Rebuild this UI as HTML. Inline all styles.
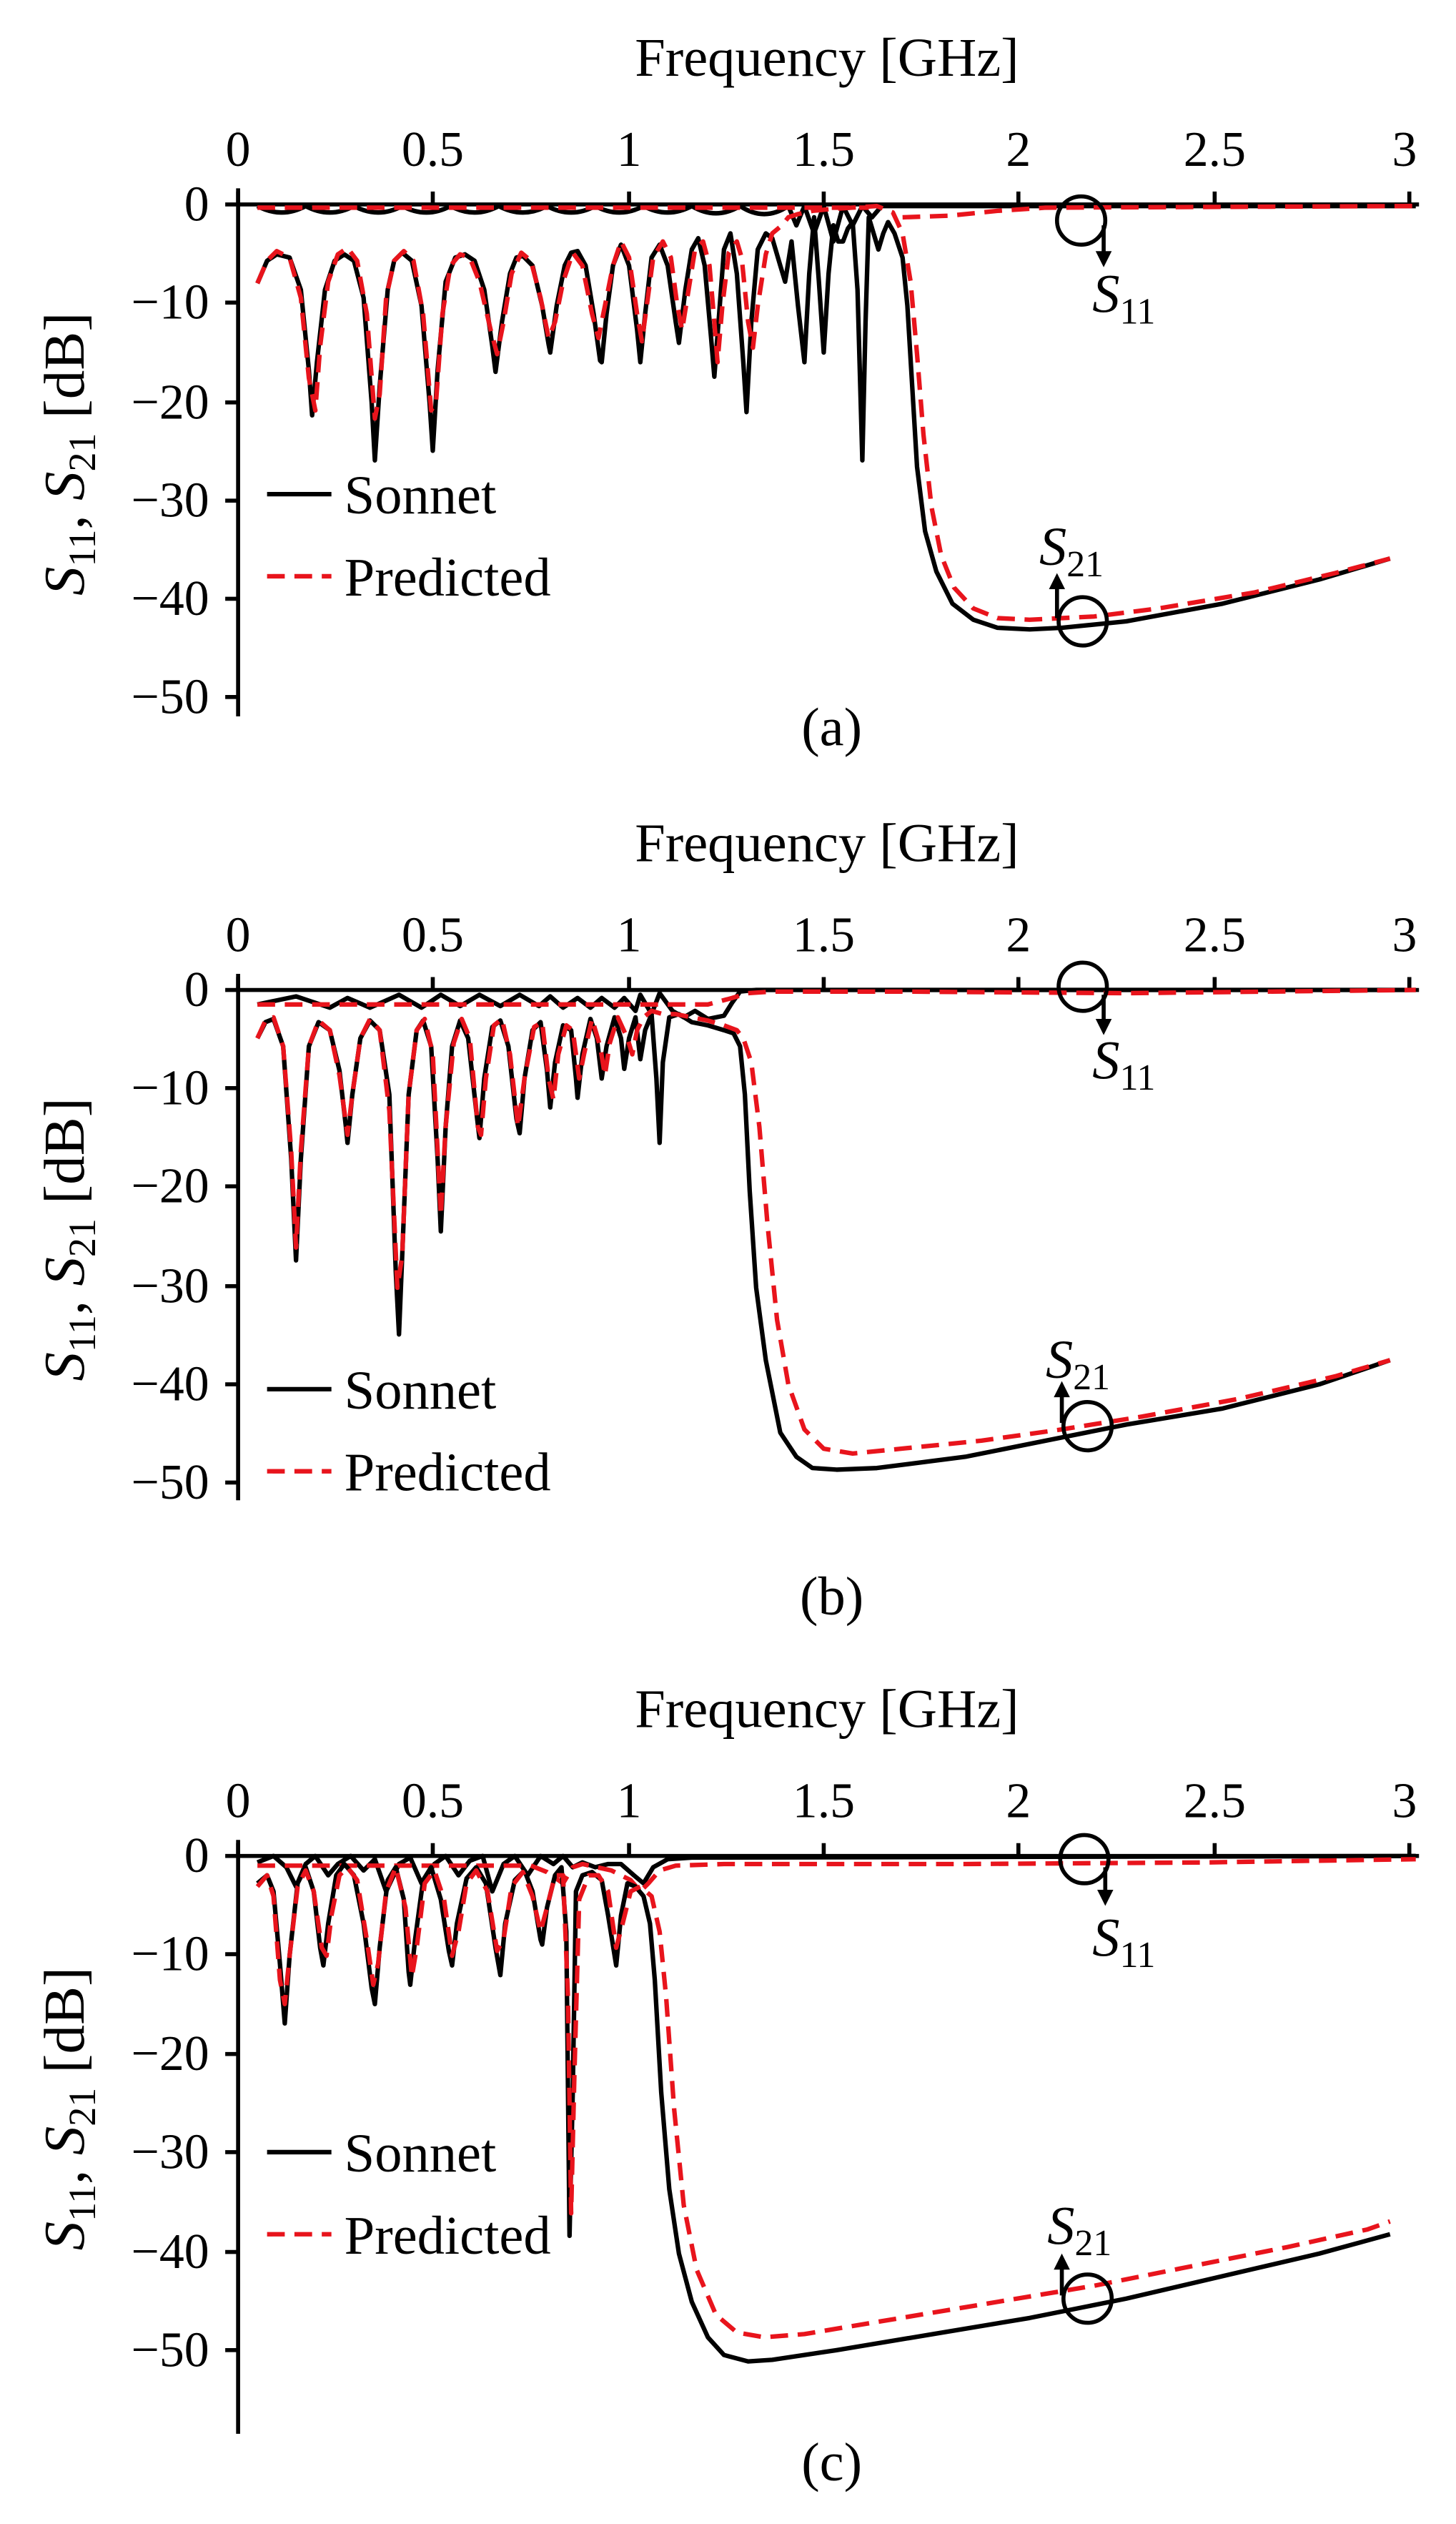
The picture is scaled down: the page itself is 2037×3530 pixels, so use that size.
<!DOCTYPE html>
<html><head><meta charset="utf-8"><style>
html,body{margin:0;padding:0;background:#fff}
svg{display:block}
text{font-family:"Liberation Serif",serif;fill:#000}
.k{fill:none;stroke:#000;stroke-width:2.8;stroke-linejoin:round}
.r{fill:none;stroke:#e8141c;stroke-width:2.8;stroke-dasharray:11,6;stroke-linejoin:round}
.ax{stroke:#000;stroke-width:2.5;fill:none}
.tk{font-size:31px}
.lg{font-size:34px}
.yl{font-size:36px}
</style></head><body>
<svg width="2037" height="3530" viewBox="0 0 905 1568" preserveAspectRatio="none" xmlns="http://www.w3.org/2000/svg">
<defs>
<g id="xt">
<path class="ax" d="M148,0 v-8 M269,0 v-8 M391,0 v-8 M512,0 v-8 M633,0 v-8 M755,0 v-8 M876,0 v-8"/>
<text class="tk" text-anchor="middle" x="148" y="-24">0</text>
<text class="tk" text-anchor="middle" x="269" y="-24">0.5</text>
<text class="tk" text-anchor="middle" x="391" y="-24">1</text>
<text class="tk" text-anchor="middle" x="512" y="-24">1.5</text>
<text class="tk" text-anchor="middle" x="633" y="-24">2</text>
<text class="tk" text-anchor="middle" x="755" y="-24">2.5</text>
<text class="tk" text-anchor="middle" x="873" y="-24">3</text>
<text font-size="34" text-anchor="middle" x="514" y="-80">Frequency [GHz]</text>
</g>
</defs>

<!-- ===== Panel (a) ===== -->
<g transform="translate(0,127)"><use href="#xt"/></g>
<path class="ax" d="M148,117 V445 M148,127 H882"/>
<path class="ax" d="M140,127 h8 M140,188 h8 M140,250 h8 M140,311 h8 M140,372 h8 M140,433 h8"/>
<g class="tk" text-anchor="end">
<text x="130" y="137">0</text><text x="130" y="198">−10</text><text x="130" y="260">−20</text>
<text x="130" y="321">−30</text><text x="130" y="382">−40</text><text x="130" y="443">−50</text></g>
<text class="yl" transform="translate(52,282) rotate(-90)" text-anchor="middle"><tspan font-style="italic">S</tspan><tspan font-size="24" dy="7">11</tspan><tspan dy="-7">,  </tspan><tspan font-style="italic">S</tspan><tspan font-size="24" dy="7">21</tspan><tspan dy="-7"> [dB]</tspan></text>
<text font-size="34" x="517" y="463" text-anchor="middle">(a)</text>

<path class="k" d="M160,128 Q175,136 190,128 Q205,136 220,128 Q235,136 250,128 Q265,136 280,128 Q295,136 310,128 Q325,136 340,128 Q355,136 370,128 Q385,136 400,128 Q415,136 430,128 Q445,137 460,128 Q475,138 490,128 L495,140 500,128 506,145 512,128 518,150 524,128 530,140 536,128 542,135 548,128 560,128 L880,128"/>
<path class="r" d="M160,129 L540,129 M561,135 L590,134 620,131 650,129 880,128"/>
<path class="k" d="M160,176 L166,162 172,158 180,160 187,180 192,230 194,258 197,225 202,180 208,162 214,158 220,162 226,185 231,250 233,286 236,240 241,180 245,162 250,157 256,162 262,190 267,250 269,280 272,230 277,175 283,160 289,158 295,162 301,180 306,215 308,231 312,200 317,170 321,160 325,159 331,165 337,190 341,214 342,219 346,190 351,165 355,157 359,156 364,165 369,195 373,224 374,225 377,195 381,165 386,152 391,165 396,205 398,225 401,195 405,160 410,152 415,165 420,200 422,213 426,180 430,155 434,148 438,165 442,210 444,234 447,195 450,155 454,145 458,170 462,225 464,256 467,200 471,155 476,145 480,148 485,165 488,175 492,150 496,190 500,225 503,170 506,135 509,175 512,219 515,170 518,140 521,150 524,150 527,142 530,138 533,180 536,286 538,200 540,135 543,145 546,155 549,145 552,138 556,145 561,160 564,190 567,240 570,290 575,330 582,355 592,375 605,385 620,390 640,391 660,390 700,386 760,375 820,360 864,347"/>
<path class="r" d="M160,176 L166,162 172,156 180,160 187,185 192,235 196,255 199,215 204,175 210,158 216,154 222,162 228,195 233,260 236,245 240,185 245,162 251,156 257,162 263,195 268,255 271,250 275,195 280,165 286,158 292,160 298,175 305,205 309,220 313,200 318,170 324,157 330,162 336,185 341,210 345,200 350,175 356,157 362,165 368,195 372,210 376,190 381,165 386,150 391,160 396,195 399,212 402,190 406,160 412,150 417,160 421,190 424,205 428,180 432,155 437,150 441,165 444,200 446,225 449,190 453,157 458,150 461,160 465,200 468,216 471,190 476,158 480,145 486,140 490,135 496,133 505,131 515,130 530,129 545,128 555,132 561,145 566,175 570,220 574,270 579,315 585,345 593,365 605,378 620,384 640,385 680,383 720,378 780,368 830,356 864,347"/>
<path class="k" d="M166,307 H206"/><text class="lg" x="214" y="319">Sonnet</text>
<path class="r" d="M166,358 H206"/><text class="lg" x="214" y="370">Predicted</text>
<circle cx="672" cy="137" r="15" class="ax"/><path class="ax" d="M686,140 V160"/><path d="M681,156 L686,166 691,156Z"/>
<text font-size="34" x="679" y="194" font-style="italic">S<tspan font-size="23" dy="7" font-style="normal">11</tspan></text>
<circle cx="673" cy="386" r="15" class="ax"/><path class="ax" d="M657,384 V362"/><path d="M652,366 L657,356 662,366Z"/>
<text font-size="34" x="646" y="351" font-style="italic">S<tspan font-size="23" dy="7" font-style="normal">21</tspan></text>

<!-- ===== Panel (b) ===== -->
<g transform="translate(0,615)"><use href="#xt"/></g>
<path class="ax" d="M148,605 V932 M148,615 H882"/>
<path class="ax" d="M140,615 h8 M140,676 h8 M140,737 h8 M140,799 h8 M140,860 h8 M140,921 h8"/>
<g class="tk" text-anchor="end">
<text x="130" y="625">0</text><text x="130" y="686">−10</text><text x="130" y="747">−20</text>
<text x="130" y="809">−30</text><text x="130" y="870">−40</text><text x="130" y="931">−50</text></g>
<text class="yl" transform="translate(52,770) rotate(-90)" text-anchor="middle"><tspan font-style="italic">S</tspan><tspan font-size="24" dy="7">11</tspan><tspan dy="-7">,  </tspan><tspan font-style="italic">S</tspan><tspan font-size="24" dy="7">21</tspan><tspan dy="-7"> [dB]</tspan></text>
<text font-size="34" x="517" y="1003" text-anchor="middle">(b)</text>

<path class="k" d="M160,624 L184,619 205,626 216,620 230,626 248,618 262,626 274,618 286,625 298,618 311,625 323,618 335,625 342,619 350,626 359,620 367,626 374,620 382,626 388,620 395,628 398,618 405,630 410,617 418,628 425,632 432,628 440,633 450,631 455,623 460,616 470,615 880,615"/>
<path class="r" d="M160,624 L440,624 455,620 465,617 480,616 560,616 700,617 880,615"/>
<path class="k" d="M160,645 L165,635 170,633 176,650 181,720 184,783 187,720 192,650 198,635 205,640 211,665 215,700 216,710 219,680 224,645 230,634 236,640 242,680 246,790 248,829 250,780 254,680 259,640 263,634 268,650 272,720 274,765 277,700 281,650 286,634 291,645 296,690 298,707 301,670 306,638 311,634 316,650 321,695 323,704 326,670 331,640 336,635 340,665 342,688 345,660 350,637 355,640 358,670 359,682 362,655 367,633 371,645 374,670 377,650 382,632 386,645 388,664 391,645 395,632 398,658 401,640 405,630 408,670 410,710 412,660 416,632 422,630 430,635 440,637 450,640 456,642 460,650 463,680 466,740 470,800 476,845 485,890 495,905 505,912 520,913 545,912 600,905 650,895 700,885 760,875 820,860 864,845"/>
<path class="r" d="M160,645 L165,634 170,632 176,650 181,715 184,775 187,715 192,650 198,634 205,640 211,668 216,705 219,680 224,645 230,633 236,640 242,690 247,800 250,780 254,680 259,640 264,633 269,655 274,755 277,700 282,648 287,633 292,645 297,700 299,705 302,670 307,637 312,633 317,655 322,700 326,670 332,638 337,635 341,670 344,683 347,655 352,637 356,640 360,670 363,655 368,633 373,650 376,668 379,648 384,632 390,645 393,655 396,640 400,632 405,628 412,630 420,630 430,632 440,634 450,637 458,640 462,645 467,660 472,700 477,760 483,820 490,860 500,888 512,900 530,903 560,900 610,895 660,888 710,880 770,869 830,855 864,845"/>
<path class="k" d="M166,863 H206"/><text class="lg" x="214" y="875">Sonnet</text>
<path class="r" d="M166,914 H206"/><text class="lg" x="214" y="926">Predicted</text>
<circle cx="673" cy="613" r="15" class="ax"/><path class="ax" d="M686,618 V637"/><path d="M681,633 L686,643 691,633Z"/>
<text font-size="34" x="679" y="670" font-style="italic">S<tspan font-size="23" dy="7" font-style="normal">11</tspan></text>
<circle cx="676" cy="886" r="15" class="ax"/><path class="ax" d="M660,884 V864"/><path d="M655,868 L660,858 665,868Z"/>
<text font-size="34" x="650" y="856" font-style="italic">S<tspan font-size="23" dy="7" font-style="normal">21</tspan></text>

<!-- ===== Panel (c) ===== -->
<g transform="translate(0,1153)"><use href="#xt"/></g>
<path class="ax" d="M148,1143 V1512 M148,1153 H882"/>
<path class="ax" d="M140,1153 h8 M140,1214 h8 M140,1276 h8 M140,1337 h8 M140,1399 h8 M140,1460 h8"/>
<g class="tk" text-anchor="end">
<text x="130" y="1163">0</text><text x="130" y="1224">−10</text><text x="130" y="1286">−20</text>
<text x="130" y="1347">−30</text><text x="130" y="1409">−40</text><text x="130" y="1470">−50</text></g>
<text class="yl" transform="translate(52,1310) rotate(-90)" text-anchor="middle"><tspan font-style="italic">S</tspan><tspan font-size="24" dy="7">11</tspan><tspan dy="-7">,  </tspan><tspan font-style="italic">S</tspan><tspan font-size="24" dy="7">21</tspan><tspan dy="-7"> [dB]</tspan></text>
<text font-size="34" x="517" y="1541" text-anchor="middle">(c)</text>

<path class="k" d="M160,1157 L170,1153 178,1160 184,1172 190,1158 196,1153 204,1165 210,1158 218,1153 226,1162 233,1155 240,1175 248,1158 255,1154 262,1170 270,1158 277,1153 285,1165 292,1156 300,1153 306,1175 313,1158 320,1153 328,1165 336,1153 344,1158 350,1153 356,1160 362,1157 370,1160 378,1158 386,1158 394,1165 400,1170 406,1160 415,1155 430,1154 880,1153"/>
<path class="r" d="M160,1159 L330,1159 340,1163 350,1170 356,1160 362,1158 380,1162 392,1168 398,1175 403,1170 410,1162 420,1159 450,1158 600,1158 750,1157 880,1155"/>
<path class="k" d="M160,1170 L166,1165 170,1175 174,1220 177,1257 180,1215 185,1170 190,1160 195,1175 199,1210 201,1221 204,1195 209,1165 214,1158 220,1165 226,1195 231,1235 233,1245 236,1210 241,1168 246,1160 251,1180 254,1225 255,1233 258,1205 263,1168 268,1160 274,1180 279,1212 281,1221 284,1195 290,1167 296,1160 302,1170 308,1210 311,1227 314,1195 320,1168 326,1162 331,1175 336,1205 337,1208 340,1185 345,1165 349,1160 352,1200 354,1389 356,1300 358,1175 362,1165 368,1163 374,1168 378,1190 383,1221 386,1190 390,1170 395,1172 400,1178 404,1195 407,1230 411,1300 416,1360 422,1400 430,1430 440,1452 450,1463 465,1467 480,1466 520,1460 580,1450 640,1440 700,1428 760,1414 820,1400 864,1388"/>
<path class="r" d="M160,1172 L166,1165 170,1178 174,1230 177,1245 180,1215 185,1172 190,1162 195,1175 200,1210 203,1215 206,1190 211,1165 216,1160 222,1168 228,1205 232,1233 235,1220 240,1175 246,1160 252,1185 256,1228 259,1210 264,1170 270,1162 276,1180 281,1215 285,1200 290,1170 296,1162 303,1175 309,1212 313,1205 318,1172 325,1163 331,1178 336,1200 340,1185 345,1165 350,1165 353,1240 355,1375 357,1290 360,1180 366,1165 372,1165 378,1175 383,1210 387,1195 392,1175 398,1172 405,1178 410,1200 414,1240 419,1310 425,1370 433,1410 445,1438 458,1449 475,1452 500,1450 560,1440 620,1430 680,1420 740,1408 800,1396 850,1385 864,1380"/>
<path class="k" d="M166,1337 H206"/><text class="lg" x="214" y="1349">Sonnet</text>
<path class="r" d="M166,1388 H206"/><text class="lg" x="214" y="1400">Predicted</text>
<circle cx="674" cy="1155" r="15" class="ax"/><path class="ax" d="M687,1160 V1178"/><path d="M682,1174 L687,1184 692,1174Z"/>
<text font-size="34" x="679" y="1215" font-style="italic">S<tspan font-size="23" dy="7" font-style="normal">11</tspan></text>
<circle cx="676" cy="1428" r="15" class="ax"/><path class="ax" d="M660,1426 V1406"/><path d="M655,1410 L660,1400 665,1410Z"/>
<text font-size="34" x="651" y="1394" font-style="italic">S<tspan font-size="23" dy="7" font-style="normal">21</tspan></text>
</svg>
</body></html>
